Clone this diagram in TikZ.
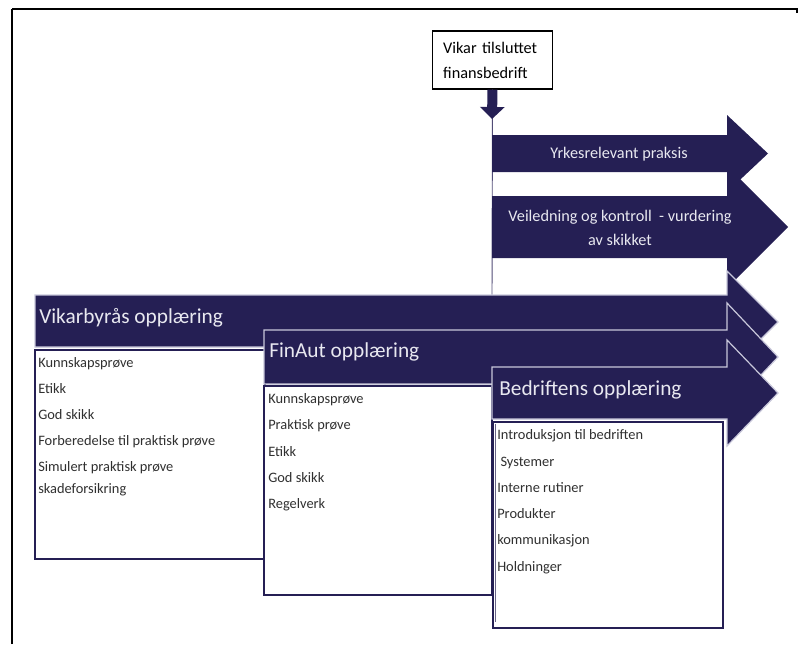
\documentclass[tikz,border=0pt]{standalone}
\usepackage{fontspec}
\setmainfont{Carlito}
\usetikzlibrary{arrows.meta}

\definecolor{navy}{HTML}{251F54}
\definecolor{rim}{HTML}{C8C7DA}
\definecolor{pale}{HTML}{E8E8F0}
\definecolor{ink}{HTML}{303030}

\tikzset{
  band/.style={fill=navy},
  bandrim/.style={fill=navy, draw=rim, line width=0.9pt},
  listbox/.style={draw=navy, line width=0.9pt, fill=white},
  head/.style={anchor=base west, text=pale, inner sep=0pt, font=\fontsize{16}{19}\selectfont},
  item/.style={anchor=base west, text=ink, inner sep=0pt, font=\fontsize{10.8}{13}\selectfont},
  bandtext/.style={text=pale, align=center, inner sep=0pt, font=\fontsize{12.2}{18.5}\selectfont},
}

\begin{document}
\begin{tikzpicture}[x=0.75pt, y=-0.75pt]
\useasboundingbox (0,0) rectangle (800,644);

% frame
\draw[line width=1.4pt] (12,644) -- (12,9);
\draw[line width=0.9pt] (12,9) -- (797,9) -- (797,13);

% start box
\node[draw, line width=0.9pt, fill=white, align=left, text width=74pt, inner xsep=8pt,
      minimum height=43.5pt, font=\fontsize{12.2}{18.75}\selectfont] (vikar) at (492.5,60)
      {Vikar tilsluttet\\finansbedrift};
\coordinate (dnend) at (492,119);
\coordinate (vtop) at (492,295);
\draw[navy!80, line width=0.7pt] (vikar.south) -- (vtop);
\draw[navy, line width=7.5pt, -{Triangle[width=18pt,length=9pt]}] (vikar.south) -- (dnend);

% practice arrows
\fill[band] (492,196) -- (727,196) -- (727,166) -- (788,227) -- (727,288) -- (727,258) -- (492,258) -- cycle;
\fill[band] (492,135) -- (727,135) -- (727,115) -- (768,153.5) -- (727,192) -- (727,172) -- (492,172) -- cycle;
\node[bandtext] (yrke) at (619,154) {Yrkesrelevant praksis};
\node[bandtext] (veil) at (620,228) {Veiledning og kontroll~~- vurdering\\av skikket};

% Vikarbyraa
\filldraw[bandrim] (35,295) -- (727,295) -- (727,271) -- (778,322) -- (727,373) -- (727,347) -- (35,347) -- cycle;
\node[head] (vikhead) at (39,323) {Vikarbyrås opplæring};
\draw[listbox] (35,350) rectangle (265,559);
\foreach \t/\y [count=\i] in {Kunnskapsprøve/367, Etikk/393, God skikk/419,
    Forberedelse til praktisk prøve/445, Simulert praktisk prøve/471, skadeforsikring/493}
  \node[item] (vk\i) at (38,\y) {\t};

% FinAut
\filldraw[bandrim] (264,330) -- (727,330) -- (727,303) -- (778,357) -- (727,411) -- (727,384) -- (264,384) -- cycle;
\node[head] (finhead) at (269,357) {FinAut opplæring};
\draw[listbox] (264,386) rectangle (492,595);
\foreach \t/\y [count=\i] in {Kunnskapsprøve/403, Praktisk prøve/429, Etikk/456, God skikk/482, Regelverk/508}
  \node[item] (fa\i) at (268,\y) {\t};

% Bedriftens
\filldraw[bandrim] (492,367) -- (727,367) -- (727,340) -- (778,393) -- (727,446) -- (727,419) -- (492,419) -- cycle;
\node[head] (bedhead) at (499,395) {Bedriftens opplæring};
\draw[listbox] (493,422) rectangle (723,628);
\draw[navy!70, line width=0.6pt] (495.5,424) -- (495.5,622);
\foreach \t/\y [count=\i] in {Introduksjon til bedriften/439, \ Systemer/466, Interne rutiner/492,
    Produkter/518, kommunikasjon/544, Holdninger/571}
  \node[item] (bd\i) at (497,\y) {\t};
\end{tikzpicture}
\end{document}
